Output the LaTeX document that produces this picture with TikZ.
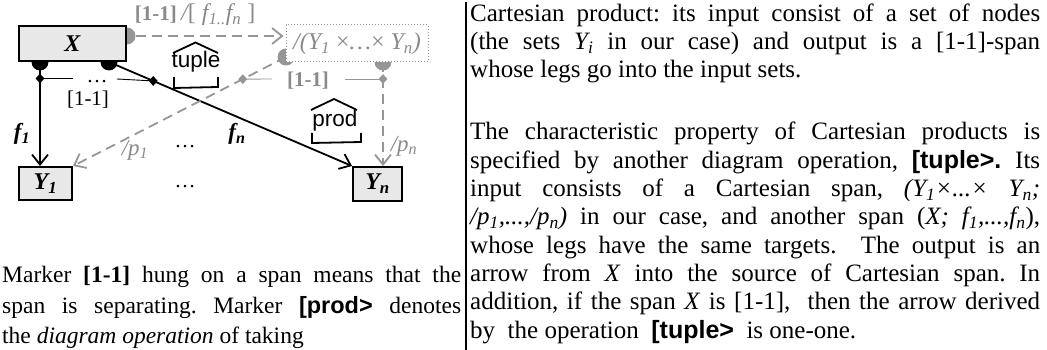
\documentclass[tikz,border=0pt]{standalone}
\usepackage{fontspec}
\setmainfont{Liberation Serif}
\setsansfont{Liberation Sans}
\usetikzlibrary{arrows.meta,shapes.geometric}
\definecolor{gr}{RGB}{150,150,150}
\definecolor{gtx}{RGB}{138,138,138}
\definecolor{boxfill}{RGB}{232,232,232}
\begin{document}
\begin{tikzpicture}[x=1pt,y=-1pt,
  box/.style={draw,line width=2pt,fill=boxfill,inner sep=0pt,font=\fontsize{24}{28}\selectfont\bfseries\itshape},
  pbox/.style={draw=gr,line width=1pt,dotted,fill=white,inner sep=0pt,text=gtx,font=\fontsize{24}{28}\selectfont\itshape},
  lbl/.style={inner sep=0pt,font=\fontsize{23}{26}\selectfont\bfseries\itshape},
  glbl/.style={inner sep=0pt,text=gtx,font=\fontsize{23}{26}\selectfont\itshape},
  gbold/.style={inner sep=0pt,text=gtx,font=\fontsize{21}{24}\selectfont\bfseries},
  plain/.style={inner sep=0pt,font=\fontsize{21}{24}\selectfont},
  opname/.style={inner sep=0pt,font=\sffamily\fontsize{22.5}{26}\selectfont},
  arr/.style={line width=1.8pt,-{Straight Barb[length=10pt,width=16pt]}},
  garr/.style={arr,draw=gr,dash pattern=on 10pt off 6pt},
  disc/.style={circle,fill,inner sep=0pt,minimum size=17pt},
  dia/.style={diamond,fill,inner sep=0pt,minimum width=9pt,minimum height=10pt},
  thinln/.style={line width=0.9pt},
  hatln/.style={line width=1.8pt},
  rtext/.style={anchor=base west,inner sep=0pt,font=\fontsize{25}{29}\selectfont\frenchspacing},
  ltext/.style={anchor=base west,inner sep=0pt,font=\fontsize{23.5}{28}\selectfont\frenchspacing}]
\useasboundingbox (0,0) rectangle (1047,350);

% markers (discs) first, boxes cover their inner halves
\node[disc] (dx1) at (40,62) {};
\node[disc] (dx2) at (109,62) {};
\node[disc,gr] (dxr) at (127,36) {};
\node[disc,gr] (dpl) at (286,57) {};
\node[disc,gr] (dpb) at (383,62) {};

% boxes
\node[box,minimum width=107pt,minimum height=35pt] (X) at (72.5,44) {X};
\node[box,minimum width=53pt,minimum height=33pt] (Y1) at (45.5,183.5) {Y\textsubscript{1}};
\node[box,minimum width=49pt,minimum height=34pt] (Yn) at (377.5,184) {Y\textsubscript{n}};
\node[pbox,minimum width=142pt,minimum height=37pt] (P) at (357,43.5) {/(Y\textsubscript{1} {\upshape×}…{\upshape×} Y\textsubscript{n})};

% black span X -> Y1, Yn
\draw[arr] (dx1.center) -- (dx1.center |- Y1.north);
\draw[arr] (dx2.center) -- (Yn.north west);
% gray arrows
\draw[garr,shorten <=9pt,shorten >=2pt] (dxr.center) -- (dxr.center -| P.west);
\draw[garr] (dpl.center) -- (Y1.north east);
\draw[garr] (dpb.center) -- (dpb.center |- Yn.north);

% [1-1] markers on spans
\path (dx2.center) -- (Yn.north west) coordinate[pos=0.182] (d2pos);
\path (dpl.center) -- (Y1.north east) coordinate[pos=0.203] (g1pos);
\node[dia] (d1) at (40,78.5) {};
\node[dia] (d2) at (d2pos) {};
\node[dia,gr] (gd1) at (g1pos) {};
\node[dia,gr] (gd2) at (383,79) {};
\coordinate (t1) at (73,78.5);
\coordinate (t2) at (117,79);
\coordinate (t3) at (272,79);
\coordinate (t4) at (345,79);
\draw[thinln] (d1.center) -- (t1);
\draw[thinln] (t2) -- (d2.center);
\draw[thinln,gr] (gd1.center) -- (t3);
\draw[thinln,gr] (t4) -- (gd2.center);
\node[plain,anchor=base] (dd) at (97,83) {\ldots};
\node[plain] (m1) at (88,99.5) {[1-1]};
\node[gbold] (m2) at (308,81) {[1-1]};
\node[gbold,anchor=east] (m3) at (177,15) {[1-1]};
\node[glbl,anchor=west,font=\fontsize{24}{27}\selectfont\itshape] (m4) at (181,15) {/{\upshape[}\ f\textsubscript{1..}f\textsubscript{n}\ {\upshape]}};

% labels
\node[lbl] (f1) at (22,134) {f\textsubscript{1}};
\node[lbl] (fn) at (237,134) {f\textsubscript{n}};
\node[glbl] (p1) at (135,150) {/p\textsubscript{1}};
\node[glbl] (pn) at (404,146) {/p\textsubscript{n}};
\node[plain] (e1) at (185,147) {\ldots};
\node[plain] (e2) at (185,187) {\ldots};

% operations
\node[opname] (tup) at (196,62) {tuple};
\draw[hatln] (173,53) -- (195.5,42.5) -- (218,53);
\draw[hatln] (174,77) -- (174,88) -- (218,87) -- (218,77);
\node[opname] (prd) at (335,121) {prod};
\draw[hatln] (311,110) -- (334,99) -- (357,110);
\draw[hatln] (312,133) -- (312,143) -- (361,142) -- (361,133);

% separator
\draw[line width=1.6pt] (466,2) -- (466,350);

% left text
\node[ltext] (l1) at (2,282) {\hbox to 459pt{Marker \textbf{[1-1]} hung on a span means that the}};
\node[ltext] (l2) at (2,313) {\hbox to 459pt{span is separating. Marker \textbf{\sffamily [prod>} denotes}};
\node[ltext] (l3) at (2,343) {the \textit{diagram operation} of taking};

% right text
\node[rtext] (r1) at (470,22) {\hbox to 570pt{Cartesian product: its input consist of a set of nodes}};
\node[rtext] (r2) at (470,50) {\hbox to 570pt{(the sets \textit{Y\textsubscript{i}} in our case) and output is a [1-1]-span}};
\node[rtext] (r3) at (470,77.5) {whose legs go into the input sets.};
\node[rtext] (r4) at (470,140) {\hbox to 570pt{The characteristic property of Cartesian products is}};
\node[rtext] (r5) at (470,168.3) {\hbox to 570pt{specified by another diagram operation, \textbf{\sffamily [tuple>.} Its}};
\node[rtext] (r6) at (470,196.6) {\hbox to 570pt{input consists of a Cartesian span, \textit{(Y\textsubscript{1}×...× Y\textsubscript{n};}}};
\node[rtext] (r7) at (470,224.9) {\hbox to 570pt{\textit{/p\textsubscript{1},...,/p\textsubscript{n})} in our case, and another span (\textit{X; f\textsubscript{1},...,f\textsubscript{n}}),}};
\node[rtext] (r8) at (470,253.2) {\hbox to 570pt{whose legs have the same targets.\ \ The output is an}};
\node[rtext] (r9) at (470,281.5) {\hbox to 570pt{arrow from \textit{X} into the source of Cartesian span. In}};
\node[rtext] (r10) at (470,309.8) {\hbox to 570pt{addition, if the span \textit{X} is [1-1],\ \ then the arrow derived}};
\node[rtext] (r11) at (470,338.1) {by\ \ the operation\ \ \textbf{\sffamily [tuple>}\ \ is one-one.};
\end{tikzpicture}
\end{document}
